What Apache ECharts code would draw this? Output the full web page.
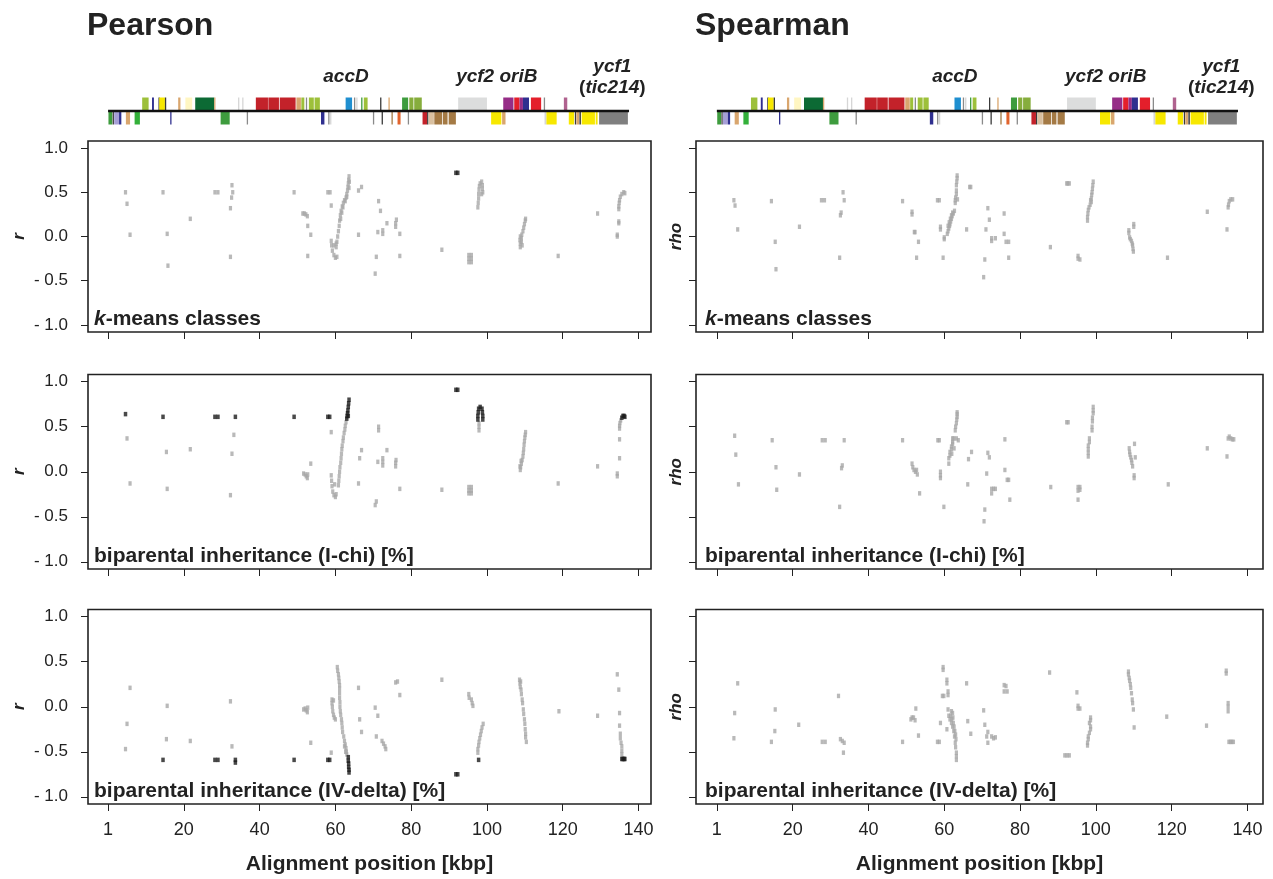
<!DOCTYPE html>
<html>
<head>
<meta charset="utf-8">
<script src="https://cdn.jsdelivr.net/npm/echarts@6/dist/echarts.min.js"></script>
<style>
html, body { margin: 0; padding: 0; background: #fff; }
#chart { width: 1273px; height: 879px; }
</style>
</head>
<body>
<div id="chart"></div>
<script>
// ---- data ----
var xTicks = [0, 20, 40, 60, 80, 100, 120, 140];
var xTickLabels = ['1', '20', '40', '60', '80', '100', '120', '140'];
var yTicks = [-1, -0.5, 0, 0.5, 1];
var yTickLabels = ['- 1.0', '- 0.5', '0.0', '0.5', '1.0'];
var columnTitles = ['Pearson', 'Spearman'];
var yNames = ['r', 'rho'];
var xName = 'Alignment position [kbp]';
var panelNames = ['{i|k}-means classes', 'biparental inheritance (I-chi) [%]', 'biparental inheritance (IV-delta) [%]'];
var genomeSpan = [0, 137.5];
var geneLabels = ['accD', 'ycf2 oriB', 'ycf1', '{n|(}{i|tic214}{n|)}'];
var geneLabelPos = [62.8, 102.6, 133.1, 133.1];

// [start kbp, end kbp, strand, class]
var genes = [
    [9.0, 10.7, 1, 'psb'], [11.6, 12.1, 1, 'ycf3'], [13.3, 13.5, 1, 'trn'], [13.5, 15.0, 1, 'rrn'], [15.0, 15.2, 1, 'trn'],
    [18.5, 19.1, 1, 'rps'], [20.4, 22.2, 1, 'atp'], [23.0, 28.0, 1, 'rpo'], [28.0, 28.2, 1, 'rps'],
    [34.3, 34.5, 1, 'faint'], [35.4, 35.6, 1, 'faint'],
    [39.0, 42.2, 1, 'psa'], [42.3, 45.1, 1, 'psa'], [45.3, 49.5, 1, 'psa'],
    [49.7, 50.9, 1, 'rps'], [51.0, 51.8, 1, 'psb'], [52.2, 52.4, 1, 'trnGray'], [53.0, 54.3, 1, 'psb'], [54.5, 55.9, 1, 'psb'],
    [62.7, 64.4, 1, 'pet'], [64.9, 65.1, 1, 'trnGray'], [65.5, 65.7, 1, 'faint'], [66.8, 67.0, 1, 'ndh'], [67.5, 68.5, 1, 'psb'],
    [71.8, 72.0, 1, 'trn'], [74.0, 74.2, 1, 'rps'],
    [77.6, 79.2, 1, 'ndh'], [79.5, 80.6, 1, 'psb2'], [80.8, 82.8, 1, 'psb2'],
    [92.4, 100.0, 1, 'ycf2'],
    [104.3, 107.0, 1, 'rpl'], [107.2, 108.6, 1, 'rrnR'], [108.6, 109.5, 1, 'rpl'], [109.5, 111.1, 1, 'ycf3'], [111.6, 114.3, 1, 'rrnR'],
    [115.0, 115.2, 1, 'trnGray'], [120.3, 121.2, 1, 'misc'],
    [0.1, 1.1, -1, 'ndh'], [1.2, 1.4, -1, 'trn'], [1.6, 2.9, -1, 'clp'], [2.9, 3.5, -1, 'ycf3'], [4.7, 5.8, -1, 'rps'], [7.0, 8.4, -1, 'ndhL'],
    [16.4, 16.7, -1, 'ycf3'], [29.7, 32.1, -1, 'ndh'], [36.6, 36.8, -1, 'trnGray'],
    [56.2, 57.1, -1, 'ycf3'], [58.1, 58.3, -1, 'trnGray'], [58.6, 58.8, -1, 'faint'],
    [69.9, 70.1, -1, 'trnGray'], [72.2, 72.4, -1, 'trn'], [74.8, 75.0, -1, 'rpl2'], [76.4, 77.2, -1, 'rbc'], [79.1, 79.3, -1, 'trnGray'],
    [83.0, 84.2, -1, 'psa'], [84.2, 84.5, -1, 'trn'], [84.6, 86.0, -1, 'rps2'], [86.1, 88.2, -1, 'rpl2'], [88.4, 89.6, -1, 'rpl2'], [89.9, 91.8, -1, 'rpl2'],
    [101.1, 103.8, -1, 'rrn'], [104.0, 104.9, -1, 'rps'],
    [115.2, 115.7, -1, 'faint'], [115.7, 118.4, -1, 'rrn'],
    [121.6, 123.0, -1, 'rrn'], [123.2, 123.5, -1, 'trn'], [123.6, 124.3, -1, 'rps'], [124.4, 124.8, -1, 'trn'], [125.0, 128.5, -1, 'rrn'], [128.7, 129.2, -1, 'rrn'],
    [129.6, 137.2, -1, 'ycf1']
];

var pearsonKmeans = [
    [4.6, 0.50], [5.0, 0.37], [5.8, 0.02], [14.5, 0.50], [15.6, 0.03], [15.8, -0.33], [21.7, 0.20],
    [28.2, 0.50], [29.0, 0.50], [32.7, 0.58], [32.9, 0.50], [32.6, 0.44], [32.3, 0.32], [32.3, -0.23],
    [49.1, 0.50], [51.4, 0.26], [51.8, 0.26], [52.2, 0.25], [52.6, 0.23], [52.7, 0.12], [53.5, 0.02], [52.7, -0.22],
    [58.0, 0.50], [58.6, 0.50], [58.9, 0.35], [58.9, -0.05], [59.0, -0.10], [59.2, -0.16], [59.6, -0.21], [60.0, -0.24], [60.4, -0.23], [59.6, -0.10], [60.2, -0.08],
    [60.2, -0.12], [60.4, -0.06], [60.6, 0.0], [60.8, 0.06], [61.0, 0.12], [61.1, 0.18], [61.3, 0.24], [61.5, 0.29], [61.8, 0.34], [62.1, 0.38],
    [62.4, 0.41], [62.8, 0.44], [63.0, 0.48], [63.2, 0.52], [63.3, 0.56], [63.4, 0.60], [63.5, 0.64], [63.6, 0.68],
    [61.4, 0.20], [61.7, 0.27], [62.0, 0.33], [62.6, 0.40], [63.0, 0.45], [63.6, 0.55], [63.7, 0.62],
    [66.1, 0.52], [66.9, 0.56], [66.1, 0.02], [71.4, 0.40], [71.9, 0.29], [71.2, 0.05], [72.5, 0.03], [72.5, 0.07], [70.8, -0.23], [70.5, -0.42],
    [73.6, 0.15], [75.9, 0.11], [75.9, 0.15], [76.1, 0.19], [77.0, 0.03], [77.0, -0.22], [88.1, -0.15],
    [95.2, -0.21], [95.2, -0.25], [95.2, -0.29], [95.9, -0.21], [95.9, -0.25], [95.9, -0.29],
    [97.6, 0.33], [97.7, 0.38], [97.8, 0.43], [97.8, 0.48], [97.9, 0.53], [98.0, 0.57], [98.2, 0.60], [98.6, 0.62], [98.8, 0.58], [98.8, 0.54], [98.9, 0.50], [98.6, 0.48],
    [108.8, -0.12], [108.8, -0.08], [108.7, -0.04], [108.8, 0.0], [109.1, -0.06], [109.3, -0.10], [109.2, 0.02], [109.5, 0.06], [109.7, 0.10], [109.9, 0.14], [110.1, 0.18], [110.2, 0.20], [109.1, -0.02],
    [118.8, -0.22], [129.2, 0.26],
    [134.4, 0.02], [134.4, 0.0], [134.8, 0.15], [134.8, 0.17], [134.8, 0.31], [134.8, 0.34], [134.9, 0.38], [135.0, 0.41], [135.2, 0.45], [135.6, 0.48], [136.1, 0.50], [136.4, 0.49]
];
var pearsonKmeansHigh = [[91.8, 0.72], [92.3, 0.72]];

var pearsonIchi = [
    [5.0, 0.37], [5.8, -0.13], [15.4, 0.22], [15.6, -0.19], [21.7, 0.25], [33.2, 0.41], [32.7, 0.20], [32.3, -0.26],
    [51.6, -0.02], [52.0, -0.03], [52.3, -0.05], [52.6, -0.07], [52.7, -0.03], [53.5, 0.09], [58.9, 0.44],
    [58.9, -0.04], [59.0, -0.10], [59.1, -0.16], [59.3, -0.22], [59.6, -0.26], [60.0, -0.28], [60.2, -0.25], [59.8, -0.14],
    [60.8, -0.15], [60.9, -0.10], [61.0, -0.05], [61.1, 0.0], [61.2, 0.05], [61.4, 0.10], [61.5, 0.15], [61.6, 0.20], [61.7, 0.25],
    [61.8, 0.29], [62.0, 0.34], [62.1, 0.38], [62.3, 0.43], [62.5, 0.47], [62.6, 0.51], [62.8, 0.55],
    [66.1, -0.13], [66.4, 0.15], [66.9, 0.24], [71.4, 0.50], [71.4, 0.46], [71.2, 0.11], [72.5, 0.07], [72.5, 0.11], [72.5, 0.15], [70.8, -0.33], [70.5, -0.37],
    [73.6, 0.24], [75.9, 0.06], [75.9, 0.10], [76.0, 0.13], [77.0, -0.19], [88.1, -0.20],
    [95.2, -0.17], [95.2, -0.21], [95.2, -0.24], [95.9, -0.17], [95.9, -0.21], [95.9, -0.24],
    [97.9, 0.46], [97.9, 0.50], [97.9, 0.54],
    [108.8, 0.02], [108.9, 0.05], [109.1, 0.09], [109.3, 0.13], [109.5, 0.17], [109.6, 0.21], [109.7, 0.25], [109.8, 0.30], [109.9, 0.34], [110.0, 0.38], [110.1, 0.41], [110.2, 0.44], [108.7, 0.06], [109.0, 0.12],
    [118.8, -0.13], [129.2, 0.06],
    [134.4, -0.02], [134.4, -0.05], [135.0, 0.15], [135.0, 0.36], [135.0, 0.48], [135.0, 0.51], [135.1, 0.54], [135.3, 0.57]
];
var pearsonIchiHigh = [
    [4.6, 0.64], [14.5, 0.61], [28.2, 0.61], [29.0, 0.61], [33.6, 0.61], [49.1, 0.61], [58.0, 0.61], [58.5, 0.61],
    [63.0, 0.59], [63.1, 0.62], [63.2, 0.65], [63.3, 0.68], [63.4, 0.72], [63.5, 0.76], [63.6, 0.80], [63.4, 0.62],
    [91.8, 0.91], [92.3, 0.91],
    [97.6, 0.58], [97.6, 0.62], [97.7, 0.66], [97.8, 0.70], [98.2, 0.72], [98.7, 0.70], [98.8, 0.66], [98.9, 0.62], [98.9, 0.58],
    [135.6, 0.60], [135.9, 0.62], [136.2, 0.62], [136.4, 0.61]
];

var pearsonIVdelta = [
    [4.6, -0.47], [5.0, -0.19], [5.8, 0.21], [15.4, -0.36], [15.6, 0.01], [21.7, -0.38], [32.7, -0.44], [32.3, 0.06],
    [51.6, -0.03], [52.0, -0.02], [52.3, -0.04], [52.6, -0.06], [52.7, -0.01], [53.5, -0.40], [58.9, -0.51],
    [59.1, 0.08], [59.1, 0.04], [59.2, 0.0], [59.3, -0.05], [59.5, -0.09], [59.7, -0.12], [60.0, -0.14], [59.5, 0.07],
    [60.5, 0.44], [60.6, 0.40], [60.8, 0.36], [60.9, 0.32], [61.0, 0.28], [61.1, 0.24], [61.1, 0.20], [61.1, 0.15], [61.1, 0.10],
    [61.2, 0.05], [61.2, 0.0], [61.3, -0.05], [61.4, -0.09], [61.6, -0.14], [61.7, -0.18], [61.8, -0.23], [61.9, -0.28],
    [62.2, -0.33], [62.4, -0.38], [62.6, -0.42], [62.8, -0.46], [62.9, -0.50], [63.0, -0.53], [62.4, -0.44], [62.7, -0.50],
    [66.1, 0.21], [66.4, -0.14], [66.9, -0.28], [70.5, -0.01], [71.2, -0.10], [70.8, -0.33], [72.3, -0.38], [72.7, -0.41], [73.1, -0.44], [73.3, -0.47],
    [75.9, 0.27], [76.4, 0.28], [77.0, 0.13], [88.1, 0.30],
    [95.2, 0.14], [95.3, 0.10], [95.9, 0.08], [96.1, 0.04], [96.3, 0.01],
    [97.6, -0.51], [97.6, -0.47], [97.8, -0.43], [97.9, -0.39], [98.1, -0.35], [98.3, -0.31], [98.5, -0.27], [98.7, -0.23], [99.0, -0.19],
    [108.6, 0.30], [108.7, 0.26], [108.8, 0.22], [109.0, 0.19], [109.1, 0.14], [109.3, 0.08], [109.4, 0.04], [109.6, -0.03],
    [109.7, -0.08], [109.9, -0.14], [110.0, -0.19], [110.1, -0.25], [110.2, -0.30], [110.2, -0.34], [110.4, -0.39], [108.9, 0.28],
    [119.0, -0.05], [129.2, -0.10],
    [134.4, 0.36], [134.8, 0.19], [135.0, -0.07], [135.0, -0.21], [135.2, -0.30], [135.2, -0.35], [135.4, -0.40], [135.6, -0.44], [135.6, -0.49], [135.6, -0.53]
];
var pearsonIVdeltaHigh = [
    [14.5, -0.59], [28.2, -0.59], [29.0, -0.59], [33.6, -0.59], [33.6, -0.62], [49.1, -0.59], [58.0, -0.59], [58.5, -0.59],
    [63.4, -0.56], [63.4, -0.60], [63.5, -0.63], [63.5, -0.67], [63.6, -0.70], [63.6, -0.73],
    [91.8, -0.75], [92.3, -0.75], [97.8, -0.59],
    [135.6, -0.58], [135.9, -0.58], [136.2, -0.58], [136.4, -0.58]
];

var spearmanKmeans = [
    [4.5, 0.41], [4.8, 0.35], [5.5, 0.08], [14.4, 0.40], [15.4, -0.06], [15.6, -0.37], [21.8, 0.11],
    [27.6, 0.41], [28.4, 0.41], [33.3, 0.50], [33.6, 0.41], [32.8, 0.27], [32.6, 0.24], [32.4, -0.24],
    [49.0, 0.40], [51.5, 0.28], [51.5, 0.25], [52.1, 0.05], [52.3, 0.05], [53.2, -0.06], [52.7, -0.24],
    [58.2, 0.41], [58.7, 0.41], [59.0, 0.11], [59.0, 0.08], [59.7, -0.24], [60.0, -0.01], [60.0, -0.03],
    [60.8, 0.03], [61.0, 0.06], [61.2, 0.09], [61.4, 0.12], [61.5, 0.14], [61.7, 0.17], [61.9, 0.20], [62.1, 0.23], [62.4, 0.26], [62.7, 0.29],
    [61.3, 0.16], [61.6, 0.20], [61.9, 0.24], [62.2, 0.27], [61.0, 0.12],
    [62.9, 0.38], [62.9, 0.41], [63.0, 0.44], [63.2, 0.48], [63.2, 0.52], [63.2, 0.58], [63.3, 0.62], [63.4, 0.66], [63.4, 0.69], [63.5, 0.42],
    [66.7, 0.56], [67.0, 0.56], [65.9, 0.08], [71.0, 0.08], [71.5, 0.32], [71.9, 0.19], [70.7, -0.26], [70.4, -0.46],
    [72.5, -0.02], [72.5, -0.05], [73.5, -0.02], [75.8, 0.26], [75.8, 0.03], [76.3, -0.06], [77.0, -0.06], [77.0, -0.24],
    [88.0, -0.12], [92.3, 0.60], [92.6, 0.60], [93.0, 0.60], [95.3, -0.25], [95.8, -0.26], [95.3, -0.22],
    [97.8, 0.18], [97.8, 0.22], [97.9, 0.26], [98.0, 0.30], [98.2, 0.33], [98.5, 0.36], [98.8, 0.39], [98.8, 0.43], [98.9, 0.47], [99.0, 0.50], [99.1, 0.54], [99.2, 0.58], [99.3, 0.62], [98.6, 0.41],
    [110.0, 0.14], [110.0, 0.11], [108.7, 0.07], [108.7, 0.04], [108.9, -0.01], [109.1, -0.03], [109.4, -0.05], [109.6, -0.08], [109.7, -0.10], [109.8, -0.14], [109.9, -0.17],
    [118.9, -0.24], [129.4, 0.28], [134.6, 0.08],
    [134.9, 0.33], [135.0, 0.36], [135.2, 0.40], [135.6, 0.42], [136.1, 0.42]
];

var spearmanIchi = [
    [4.7, 0.40], [5.0, 0.19], [5.7, -0.14], [14.6, 0.35], [15.6, 0.05], [15.8, -0.20], [21.8, -0.03],
    [27.8, 0.35], [28.6, 0.35], [33.6, 0.35], [33.1, 0.07], [32.9, 0.04], [32.4, -0.39], [49.0, 0.35],
    [51.5, 0.09], [51.7, 0.05], [52.0, 0.02], [52.4, 0.0], [52.7, 0.02], [52.9, -0.03], [53.5, -0.24],
    [58.3, 0.35], [58.7, 0.35], [59.0, 0.0], [59.0, -0.04], [59.0, -0.07], [59.9, -0.39],
    [61.2, 0.09], [61.2, 0.15], [61.5, 0.18], [61.5, 0.22], [61.9, 0.25], [61.9, 0.28], [62.2, 0.31], [62.2, 0.33], [62.5, 0.37], [62.2, 0.37],
    [62.9, 0.46], [63.0, 0.50], [63.2, 0.54], [63.3, 0.58], [63.4, 0.61], [63.4, 0.64], [63.4, 0.66], [63.7, 0.35], [63.2, 0.37], [62.0, 0.20], [62.6, 0.26],
    [66.4, 0.14], [67.2, 0.22], [66.2, -0.14], [71.5, 0.21], [71.9, 0.16], [71.2, -0.02], [70.7, -0.42], [70.5, -0.55],
    [72.5, -0.19], [73.0, -0.19], [73.5, -0.19], [72.5, -0.24], [76.0, 0.36], [76.0, 0.02], [76.6, -0.09], [77.0, -0.09], [77.3, -0.31],
    [88.1, -0.17], [92.3, 0.55], [92.7, 0.55], [95.3, -0.17], [95.3, -0.21], [95.8, -0.17], [95.8, -0.20], [95.3, -0.31],
    [99.3, 0.72], [99.3, 0.68], [99.3, 0.65], [99.1, 0.60], [99.1, 0.56], [99.0, 0.50], [99.0, 0.46], [98.3, 0.37], [98.3, 0.33], [98.0, 0.29], [98.0, 0.25], [98.0, 0.21], [98.0, 0.17],
    [110.2, 0.31], [108.8, 0.26], [108.9, 0.22], [109.0, 0.19], [109.2, 0.16], [109.4, 0.13], [109.5, 0.10], [109.7, 0.06], [110.4, 0.16], [110.1, -0.04], [110.1, -0.07],
    [119.1, -0.14], [129.4, 0.26], [134.6, 0.17],
    [134.9, 0.37], [135.2, 0.39], [135.6, 0.37], [136.0, 0.36], [136.4, 0.36]
];

var spearmanIVdelta = [
    [5.5, 0.26], [4.7, -0.07], [4.5, -0.35], [15.4, -0.03], [15.3, -0.27], [14.4, -0.39], [21.6, -0.20],
    [27.8, -0.39], [28.6, -0.39], [32.1, 0.12], [32.6, -0.36], [33.1, -0.38], [33.6, -0.40], [33.4, -0.51], [49.0, -0.39],
    [51.2, -0.14], [51.5, -0.12], [51.9, -0.12], [52.3, -0.15], [52.5, -0.02], [53.2, -0.32],
    [58.2, -0.39], [58.7, -0.39], [59.0, -0.18], [59.5, 0.12], [59.9, 0.12], [59.7, 0.44], [59.7, 0.41],
    [60.7, 0.30], [60.7, 0.26], [61.0, 0.17], [61.0, 0.13], [61.0, -0.03],
    [61.2, -0.10], [61.5, -0.14], [61.9, -0.18], [62.2, -0.22], [62.5, -0.27], [62.7, -0.33], [62.9, -0.40], [63.2, -0.51], [63.2, -0.59], [63.2, -0.55],
    [61.7, -0.10], [62.2, -0.07], [60.7, -0.25], [62.0, -0.14], [62.4, -0.18], [62.6, -0.22], [62.8, -0.27], [63.0, -0.31], [63.1, -0.36], [62.3, -0.12], [61.9, -0.05], [63.0, -0.45],
    [65.9, 0.26], [66.2, -0.16], [67.0, -0.30], [70.4, -0.04], [70.7, -0.20], [71.5, -0.28], [71.2, -0.33], [71.5, -0.40],
    [72.5, -0.33], [73.0, -0.35], [73.5, -0.34], [75.8, 0.24], [76.3, 0.23], [75.8, 0.17], [76.6, 0.17],
    [87.8, 0.38], [91.8, -0.54], [92.4, -0.54], [93.0, -0.54], [95.0, 0.16], [95.3, -0.02], [95.8, -0.02], [95.3, 0.01],
    [98.6, -0.12], [98.6, -0.15], [98.3, -0.18], [98.6, -0.22], [98.6, -0.25], [98.3, -0.29], [98.0, -0.33], [98.0, -0.36], [97.8, -0.40], [97.8, -0.43],
    [108.6, 0.39], [108.6, 0.36], [108.8, 0.32], [108.9, 0.29], [109.1, 0.25], [109.2, 0.21], [109.4, 0.15], [109.6, 0.08], [109.7, 0.04], [109.9, -0.03], [110.1, -0.23],
    [118.7, -0.11], [129.2, -0.21],
    [134.4, 0.40], [134.4, 0.37], [134.9, -0.05], [134.9, 0.0], [134.9, 0.04],
    [135.1, -0.39], [135.5, -0.39], [135.9, -0.39], [136.3, -0.39]
];

var panelGray = [pearsonKmeans, pearsonIchi, pearsonIVdelta, spearmanKmeans, spearmanIchi, spearmanIVdelta];
var panelDark = [pearsonKmeansHigh, pearsonIchiHigh, pearsonIVdeltaHigh, [], [], []];

// ---- styles / layout ----
var geneColors = {
    psb: '#9dc03a', psb2: '#86ad3c', ycf3: '#2f2f8f', trn: '#3a3a3a', trnGray: '#8a8a8a', faint: '#d6d6d6',
    rrn: '#f7e800', rps: '#d9a66e', rps2: '#d9c0a0', atp: '#fff6c2', rpo: '#0c6a34', psa: '#c3222a',
    pet: '#1f8fd0', ndh: '#3e9c3e', ndhL: '#33b03a', ycf2: '#dcdddd', rpl: '#962d87', rrnR: '#e41f2b',
    misc: '#b0628f', clp: '#a69fd6', rbc: '#e2642d', rpl2: '#a47a45', ycf1: '#7f7f7f'
};
var FONT = '"Liberation Sans", Arial, sans-serif';
var INK = '#222';
var cols = [
    { left: 88, width: 563, min: -5.3, max: 143.3 },
    { left: 696, width: 567, min: -5.5, max: 144.1 }
];
var rows = [
    { top: 141, height: 191 },
    { top: 374.5, height: 194.5 },
    { top: 609.5, height: 194.5 }
];
var geneRow = { top: 97.5, height: 27 };
var geneLabelY = [77, 77, 67, 88];

var dom = document.getElementById('chart');
var myChart = echarts.init(dom, null, { renderer: 'canvas' });

var grid = [], xAxis = [], yAxis = [], series = [];

for (var c = 0; c < 2; c++) {
    for (var r = 0; r < 3; r++) {
        var gi = c * 3 + r;
        var bottomRow = r === 2;
        grid.push({
            left: cols[c].left, width: cols[c].width, top: rows[r].top, height: rows[r].height,
            show: true, borderColor: INK, borderWidth: 1.6, backgroundColor: '#fff'
        });
        xAxis.push({
            type: 'value', gridIndex: gi, min: cols[c].min, max: cols[c].max, position: 'bottom',
            axisLine: { show: false, onZero: false }, splitLine: { show: false },
            axisTick: { show: true, inside: false, length: 7, customValues: xTicks, lineStyle: { color: INK, width: 1 } },
            axisLabel: {
                show: bottomRow, customValues: xTicks, margin: 17, color: INK, fontSize: 18, fontFamily: FONT,
                formatter: function (v) { var i = xTicks.indexOf(v); return i >= 0 ? xTickLabels[i] : ''; }
            },
            name: bottomRow ? xName : '', nameLocation: 'middle', nameGap: 50,
            nameTextStyle: { color: INK, fontSize: 21, fontWeight: 'bold', fontFamily: FONT }
        });
        yAxis.push({
            type: 'value', gridIndex: gi, min: -1.08, max: 1.08, position: 'left',
            axisLine: { show: false, onZero: false }, splitLine: { show: false },
            axisTick: { show: true, inside: false, length: 7, customValues: yTicks, lineStyle: { color: INK, width: 1 } },
            axisLabel: {
                show: c === 0, customValues: yTicks, margin: 20, color: INK, fontSize: 17, fontFamily: FONT,
                formatter: function (v) { var i = yTicks.indexOf(v); return i >= 0 ? yTickLabels[i] : ''; }
            },
            name: yNames[c], nameLocation: 'middle', nameRotate: 90, nameGap: c === 0 ? 60 : 11,
            nameTextStyle: { color: INK, fontSize: 17, fontWeight: 'bold', fontStyle: 'italic', fontFamily: FONT }
        });
        series.push({
            type: 'scatter', xAxisIndex: gi, yAxisIndex: gi, data: panelGray[gi],
            symbol: 'rect', symbolSize: [3.2, 4.5], itemStyle: { color: '#a8a8a8' }, silent: true, z: 2
        });
        if (panelDark[gi].length) {
            series.push({
                type: 'scatter', xAxisIndex: gi, yAxisIndex: gi, data: panelDark[gi],
                symbol: 'rect', symbolSize: [3.5, 4.5], itemStyle: { color: '#1c1c1c' }, silent: true, z: 3
            });
        }
    }
}

// gene map rows
for (var c2 = 0; c2 < 2; c2++) {
    var gg = 6 + c2;
    grid.push({ left: cols[c2].left, width: cols[c2].width, top: geneRow.top, height: geneRow.height });
    xAxis.push({ type: 'value', gridIndex: gg, min: cols[c2].min, max: cols[c2].max, show: false });
    yAxis.push({ type: 'value', gridIndex: gg, min: -1, max: 1, show: false });
    series.push({
        type: 'custom', xAxisIndex: gg, yAxisIndex: gg, silent: true, z: 2,
        data: genes.map(function (g) { return [g[0], g[1], g[2]]; }),
        renderItem: function (params, api) {
            var p0 = api.coord([api.value(0), 0]);
            var p1 = api.coord([api.value(1), api.value(2)]);
            var w = Math.max(p1[0] - p0[0], 1.3);
            return {
                type: 'rect',
                shape: { x: p0[0], y: Math.min(p0[1], p1[1]), width: w, height: Math.abs(p1[1] - p0[1]) },
                style: { fill: geneColors[genes[params.dataIndex][3]] }
            };
        }
    });
    series.push({
        type: 'line', xAxisIndex: gg, yAxisIndex: gg, silent: true, z: 4, symbol: 'none',
        data: [[genomeSpan[0], 0], [genomeSpan[1], 0]],
        lineStyle: { color: '#111', width: 2.4 }
    });
}

myChart.setOption({ animation: false, backgroundColor: '#fff', grid: grid, xAxis: xAxis, yAxis: yAxis, series: series });

// texts
var graphic = [];
var boldRich = {
    i: { fontStyle: 'italic', fontWeight: 'bold', fontSize: 19, fontFamily: FONT, fill: INK },
    n: { fontStyle: 'normal', fontWeight: 'bold', fontSize: 19, fontFamily: FONT, fill: INK }
};
for (var c3 = 0; c3 < 2; c3++) {
    graphic.push({
        type: 'text', left: cols[c3].left - 1, top: 10,
        style: { text: columnTitles[c3], font: 'bold 32px ' + FONT, fill: INK }
    });
    for (var r3 = 0; r3 < 3; r3++) {
        graphic.push({
            type: 'text', x: cols[c3].left + (c3 === 0 ? 6 : 9), y: rows[r3].top + rows[r3].height - 13,
            style: {
                text: panelNames[r3], font: 'bold 21px ' + FONT, fill: INK, verticalAlign: 'middle',
                rich: { i: { fontStyle: 'italic', fontWeight: 'bold', fontSize: 21, fontFamily: FONT, fill: INK } }
            }
        });
    }
    for (var k = 0; k < geneLabels.length; k++) {
        var px = myChart.convertToPixel({ gridIndex: 6 + c3 }, [geneLabelPos[k], 0])[0];
        graphic.push({
            type: 'text', x: px, y: geneLabelY[k],
            style: {
                text: geneLabels[k], font: 'italic bold 19px ' + FONT, fill: INK,
                align: 'center', verticalAlign: 'middle', rich: boldRich
            }
        });
    }
}
myChart.setOption({ graphic: graphic });
</script>
</body>
</html>
